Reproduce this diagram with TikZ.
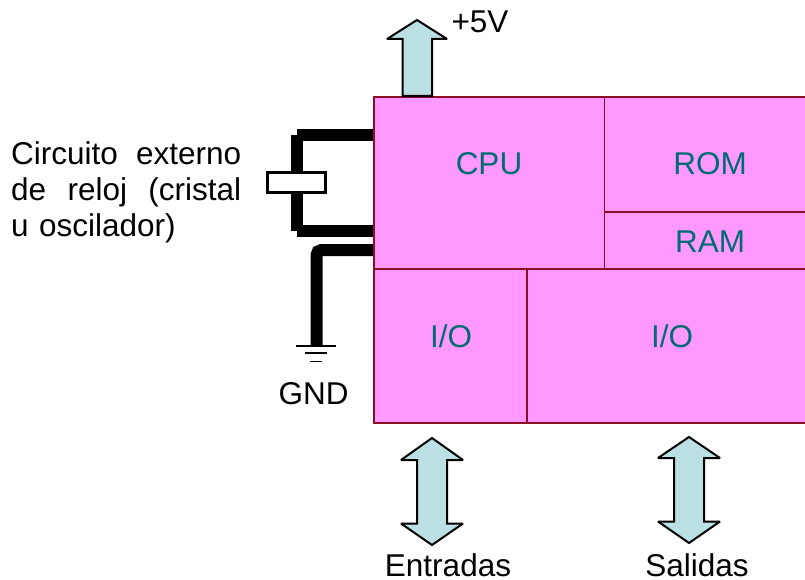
\documentclass[tikz,border=0pt]{standalone}
\usepackage{fontspec}
\setmainfont{Liberation Sans}
\definecolor{blockfill}{HTML}{FF99FF}
\definecolor{blockline}{HTML}{8E0F25}
\definecolor{blocktext}{HTML}{006B73}
\definecolor{arrowfill}{HTML}{BBE0E3}
\tikzset{
  blockbox/.style={draw=blockline,fill=blockfill,line width=1.9pt,rectangle,inner sep=0pt,outer sep=0pt},
  blocklabel/.style={text=blocktext,anchor=base,inner sep=0pt,font=\fontsize{31.5}{36}\selectfont},
  plainlabel/.style={text=black,anchor=base,inner sep=0pt,font=\fontsize{31.5}{36}\selectfont},
  arrowshape/.style={draw=black,fill=arrowfill,line width=2pt,line join=miter,miter limit=3},
  wire/.style={draw=black,line width=12pt,line cap=butt},
  gndline/.style={draw=black,line width=1.8pt},
}
\begin{document}
\begin{tikzpicture}[x=1pt,y=-1pt]
\useasboundingbox (0,0) rectangle (805,580);
\clip (0,0) rectangle (805,580);
% wires and crystal
\coordinate (topL) at (297,135);
\coordinate (topR) at (373,135);
\coordinate (botL) at (297,231);
\coordinate (botR) at (373,231);
\coordinate (gndR) at (373,250);
\coordinate (gndB) at (316.5,346);
\draw[wire] (topR) -- (topL);
\draw[wire] (botR) -- (botL);
\draw[wire] (297,135) -- (297,231);
\draw[wire,rounded corners=5pt] (gndR) -- (316.5,250) -- (gndB);
\node[draw=black,fill=white,line width=3pt,rectangle,inner sep=0pt,outer sep=0pt,minimum width=58pt,minimum height=20pt] (crystal) at (296.5,182.5) {};
% ground
\draw[gndline] (296,346) -- (336,346);
\draw[gndline] (305,353) -- (327,353);
\draw[gndline] (310,361.5) -- (322,361.5);
% blocks
\path[fill=blockfill] (374,97) rectangle (817,423);
\path[blockbox,fill=none] (374,97) rectangle (604.5,269);
\path[blockbox,fill=none] (604.5,97) rectangle (817,212);
\path[blockbox,fill=none] (604.5,212) rectangle (817,269);
\path[blockbox,fill=none] (374,269) rectangle (527,423);
\path[blockbox,fill=none] (527,269) rectangle (817,423);
\node[blocklabel] (cpu) at (489,174.5) {CPU};
\node[blocklabel] (rom) at (710,174.5) {ROM};
\node[blocklabel] (ram) at (710,252.5) {RAM};
\node[blocklabel] (io1) at (451,347.5) {I/O};
\node[blocklabel] (io2) at (672,347.5) {I/O};
% arrows
\draw[arrowshape] (402.5,96) -- (402.5,39) -- (387,39) -- (417,20) -- (447,39) -- (432,39) -- (432,96) -- cycle;
\draw[arrowshape] (432,438) -- (463,460) -- (447,460) -- (447,523.5) -- (463,523.5) -- (432,545) -- (401,523.5) -- (417,523.5) -- (417,460) -- (401,460) -- cycle;
\draw[arrowshape] (689,437) -- (720,458) -- (704,458) -- (704,521.5) -- (720,521.5) -- (689,543) -- (658,521.5) -- (674,521.5) -- (674,458) -- (658,458) -- cycle;
% labels
\node[plainlabel] (vcc) at (480,32.5) {+5V};
\node[plainlabel] (gnd) at (313.5,404) {GND};
\node[plainlabel] (ent) at (448,576.5) {Entradas};
\node[plainlabel] (sal) at (697,576.5) {Salidas};
\node[plainlabel,anchor=north west,text width=230pt,align=left,font=\fontsize{31.5}{36.3}\selectfont] (clk) at (11,141)
  {Circuito\hfill externo\\de\hfill reloj\hfill (cristal\\u oscilador)};
\end{tikzpicture}
\end{document}
